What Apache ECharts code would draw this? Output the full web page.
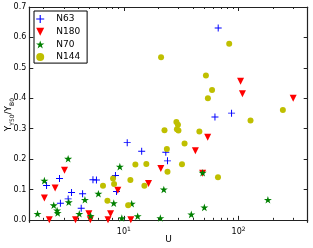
<!DOCTYPE html>
<html>
<head>
<meta charset="utf-8">
<script src="https://cdn.jsdelivr.net/npm/echarts@6/dist/echarts.min.js"></script>
<style>html,body{margin:0;padding:0;background:#fff;}#c{width:313px;height:248px;}</style>
</head>
<body>
<div id="c"></div>
<script>
// ---- data ----
const seriesNames = ['N63', 'N180', 'N70', 'N144'];
const n63U = [2.12, 2.75, 2.80, 3.27, 3.50, 4.37, 4.25, 5.38, 5.77, 8.45, 8.63, 10.7, 14.3, 23.2, 24.0, 62.2, 86.8, 66.4];
const n63Y = [0.113, 0.136, 0.055, 0.069, 0.090, 0.086, 0.038, 0.132, 0.131, 0.146, 0.093, 0.254, 0.226, 0.222, 0.194, 0.338, 0.351, 0.631];
const n180U = [2.03, 2.24, 2.52, 3.04, 3.79, 4.96, 5.10, 7.28, 7.66, 8.86, 11.5, 16.4, 21.0, 42.0, 48.6, 53.8, 104, 108, 299];
const n180Y = [0.072, 0.0, 0.105, 0.163, 0.0, 0.020, 0.0, 0.0, 0.020, 0.097, 0.0, 0.120, 0.169, 0.227, 0.153, 0.272, 0.456, 0.415, 0.400];
const n70U = [1.77, 2.03, 2.45, 2.62, 2.65, 3.27, 3.31, 4.09, 4.58, 5.14, 6.0, 8.17, 9.23, 9.6, 11.7, 13.2, 20.8, 22.3, 38.7, 48.6, 50.3, 180];
const n70Y = [0.020, 0.129, 0.048, 0.031, 0.023, 0.201, 0.058, 0.020, 0.066, 0.013, 0.086, 0.055, 0.175, 0.006, 0.053, 0.012, 0.006, 0.100, 0.018, 0.155, 0.041, 0.066];
const n144U = [6.58, 7.19, 8.05, 8.22, 10.9, 11.4, 12.6, 15.1, 15.7, 21.1, 22.6, 23.7, 24.0, 28.7, 29.6, 29.0, 29.9, 32.1, 33.8, 45.5, 51.9, 54.0, 58.7, 66.1, 82.8, 127, 243];
const n144Y = [0.112, 0.063, 0.136, 0.118, 0.048, 0.131, 0.182, 0.112, 0.184, 0.535, 0.295, 0.233, 0.158, 0.322, 0.313, 0.298, 0.294, 0.183, 0.251, 0.291, 0.475, 0.400, 0.427, 0.140, 0.579, 0.327, 0.361];
const yTicks = [0.0, 0.1, 0.2, 0.3, 0.4, 0.5, 0.6, 0.7];
const xMajorTicks = [10, 100];
const xMinorTicks = [2, 3, 4, 5, 6, 7, 8, 9, 20, 30, 40, 50, 60, 70, 80, 90, 200, 300, 400];

// ---- styling ----
const PLUS = 'path://M4.3,0 h1.4 v4.3 h4.3 v1.4 h-4.3 v4.3 h-1.4 v-4.3 h-4.3 v-1.4 h4.3 z';
const TRI_DOWN = 'path://M0,0 L10,0 L5,10 Z';
const STAR = 'path://M10,0 L12.245,6.91 L19.51,6.91 L13.63,11.18 L15.88,18.09 L10,13.82 L4.12,18.09 L6.37,11.18 L0.49,6.91 L7.755,6.91 Z';
const CIRCLE = 'circle';
const symbols = [PLUS, TRI_DOWN, STAR, CIRCLE];
const sizes = [7, 7, 8, 6];
const colors = ['#0000ff', '#ff0000', '#008000', '#bfbf00'];
const FONT = 'DejaVu Sans';
const lineCol = '#222';

function pairs(xs, ys) { return xs.map((x, i) => [x, ys[i]]); }
const dataSets = [pairs(n63U, n63Y), pairs(n180U, n180Y), pairs(n70U, n70Y), pairs(n144U, n144Y)];

function xAxisDef(pos, ticks, len, showLine, showLabel) {
  return {
    type: 'log', logBase: 10, min: 1.5, max: 400, position: pos,
    axisLine: { show: showLine, lineStyle: { color: lineCol, width: 1.2 } },
    axisTick: { show: true, inside: true, length: len, customValues: ticks, lineStyle: { color: lineCol, width: 1 } },
    axisLabel: {
      show: showLabel, customValues: xMajorTicks, margin: 4, color: '#000',
      fontFamily: FONT, fontSize: 8,
      formatter: v => '10{sup|' + Math.round(Math.log10(v)) + '}',
      rich: { sup: { fontSize: 6, fontFamily: FONT, verticalAlign: 'top', padding: [0, 0, 6, 0], color: '#000' } }
    },
    splitLine: { show: false }, minorTick: { show: false },
    name: showLabel ? 'U' : '', nameLocation: 'middle', nameGap: 13, nameMoveOverlap: false,
    nameTextStyle: { fontFamily: FONT, fontSize: 9, color: '#000' }
  };
}
function yAxisDef(pos, showLabel) {
  return {
    type: 'value', min: -0.008, max: 0.7, position: pos,
    axisLine: { show: true, lineStyle: { color: lineCol, width: 1.2 } },
    axisTick: { show: true, inside: true, length: 4, customValues: yTicks, lineStyle: { color: lineCol, width: 1 } },
    axisLabel: { show: showLabel, customValues: yTicks, margin: 3, color: '#000', fontFamily: FONT, fontSize: 8,
      formatter: v => v.toFixed(1) },
    splitLine: { show: false },
    name: showLabel ? '{n|Y}{s|Y50}{n|/Y}{s|B0}' : '', nameLocation: 'middle', nameGap: 16, nameMoveOverlap: false,
    nameTextStyle: { fontFamily: FONT, color: '#000',
      rich: { n: { fontSize: 9, fontFamily: FONT, lineHeight: 11, verticalAlign: 'bottom' },
              s: { fontSize: 6, fontFamily: FONT, lineHeight: 7, verticalAlign: 'bottom', padding: [0, 0, -2, 0] } } }
  };
}

const chart = echarts.init(document.getElementById('c'), null, { renderer: 'canvas' });
chart.setOption({
  animation: false,
  backgroundColor: '#fff',
  grid: { left: 29.3, top: 7, right: 5.3, bottom: 25.7, containLabel: false, outerBoundsMode: 'none' },
  xAxis: [
    xAxisDef('bottom', xMajorTicks, 4, true, true),
    xAxisDef('bottom', xMinorTicks, 2, false, false),
    xAxisDef('top', xMajorTicks, 4, true, false),
    xAxisDef('top', xMinorTicks, 2, false, false)
  ],
  yAxis: [yAxisDef('left', true), yAxisDef('right', false)],
  legend: {
    orient: 'vertical', left: 34, top: 11,
    padding: [3, 7, 1, 2], itemGap: 2.7, itemWidth: 22, itemHeight: 8,
    borderColor: '#000', borderWidth: 1, backgroundColor: '#fff',
    textStyle: { fontFamily: FONT, fontSize: 9, color: '#000', lineHeight: 10 },
    data: seriesNames.map((n, i) => ({ name: n, icon: symbols[i], itemStyle: { color: colors[i] } }))
  },
  series: seriesNames.map((n, i) => ({
    name: n, type: 'scatter', xAxisIndex: 0, yAxisIndex: 0,
    symbol: symbols[i], symbolSize: sizes[i], symbolKeepAspect: true,
    itemStyle: { color: colors[i], opacity: 1 },
    data: dataSets[i]
  }))
});
</script>
</body>
</html>
